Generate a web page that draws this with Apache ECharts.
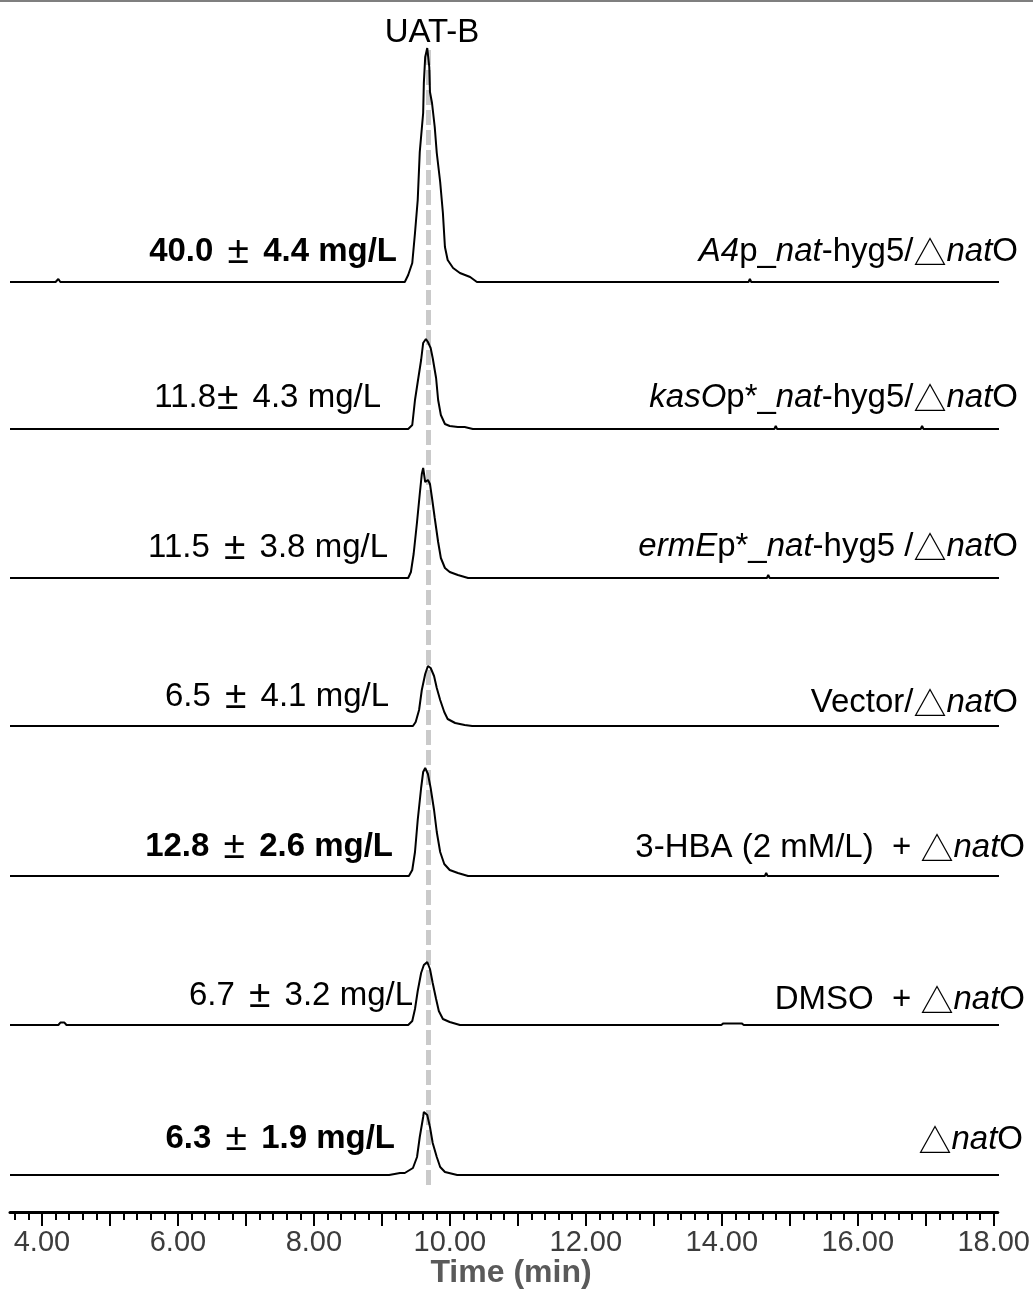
<!DOCTYPE html>
<html>
<head>
<meta charset="utf-8">
<script src="https://cdn.jsdelivr.net/npm/echarts@6/dist/echarts.min.js"></script>
<style>
  html, body { margin: 0; padding: 0; background: #fff; }
  #chart { width: 1033px; height: 1299px; }
</style>
</head>
<body>
<div id="chart"></div>
<script>
// retention time axis (min)
const timeMin = 3.53;
const timeMax = 18.06;
const timeLabels = [4, 6, 8, 10, 12, 14, 16, 18];
const majorTicks = [4, 5, 6, 7, 8, 9, 10, 11, 12, 13, 14, 15, 16, 17, 18];
const peakTime = 9.67;
const peakName = 'UAT-B';

// chromatograms, [time, intensity]
const traceA4 = [[3.53,0],[4.20,0],[4.24,1.5],[4.27,0],[9.33,0],[9.38,3.5],[9.44,9.5],[9.48,24.5],[9.52,41],[9.55,65],[9.60,84.5],[9.61,99.5],[9.63,112.5],[9.66,117],[9.69,107.5],[9.70,95],[9.73,89.5],[9.77,77.5],[9.80,64.5],[9.85,50],[9.89,34.5],[9.92,17.5],[9.96,11],[10.04,7],[10.14,4.5],[10.29,2.5],[10.39,0],[14.16,0],[14.18,1],[14.20,0],[14.38,0],[14.40,1.5],[14.42,0],[18.06,0]];
const traceKas = [[3.53,0],[9.38,0],[9.44,2],[9.48,14.5],[9.52,23.5],[9.57,34.5],[9.60,43],[9.64,45],[9.67,43.5],[9.71,40.5],[9.74,35.5],[9.79,25.5],[9.82,14.5],[9.86,7],[9.92,2.5],[9.99,1.5],[10.11,1],[10.21,1],[10.33,0],[14.76,0],[14.78,1.5],[14.80,0],[16.08,0],[16.10,1],[16.12,0],[16.91,0],[16.93,1.5],[16.95,0],[18.06,0]];
const traceErm = [[3.53,0],[4.24,0],[4.26,1],[4.28,0],[9.38,0],[9.42,3],[9.46,12],[9.51,28],[9.55,42],[9.58,52],[9.60,55],[9.63,48],[9.67,49],[9.70,47],[9.73,40],[9.77,30],[9.82,18],[9.86,10],[9.92,5],[9.99,3],[10.11,1.5],[10.26,0],[14.65,0],[14.67,1.5],[14.69,0],[14.97,0],[14.99,1],[15.01,0],[18.06,0]];
const traceVector = [[3.53,0],[9.45,0],[9.49,2],[9.54,8],[9.58,18],[9.63,26],[9.67,30],[9.71,29],[9.76,25],[9.80,19],[9.85,13],[9.91,7],[9.96,3.5],[10.07,1.5],[10.21,0.5],[10.32,0],[13.68,0],[13.70,1],[13.72,0],[14.26,0],[14.28,1],[14.30,0],[18.06,0]];
const traceHBA = [[3.53,0],[9.39,0],[9.44,3],[9.48,12],[9.52,28],[9.57,44],[9.60,52],[9.63,54],[9.67,51],[9.71,44],[9.76,33],[9.80,22],[9.85,12],[9.91,6],[9.99,3],[10.11,1.5],[10.26,0],[14.62,0],[14.64,1.5],[14.66,0],[15.34,0],[15.36,0.8],[15.38,0],[18.06,0]];
const traceDMSO = [[3.53,0],[4.24,0],[4.27,1.2],[4.33,1.2],[4.36,0],[9.38,0],[9.44,2],[9.48,8],[9.52,17],[9.57,26],[9.61,30],[9.66,31.5],[9.70,28],[9.74,21],[9.79,13],[9.83,7],[9.89,3],[9.99,1.5],[10.14,0],[13.98,0],[14.01,0.8],[14.28,0.8],[14.31,0],[15.16,0],[15.18,0.8],[15.20,0],[18.06,0]];
const traceNatO = [[3.53,0],[9.10,0],[9.26,1],[9.33,1],[9.45,3.5],[9.51,9],[9.55,19],[9.60,29],[9.61,31.5],[9.66,30],[9.70,24],[9.74,16],[9.80,9],[9.85,4],[9.92,1.5],[10.10,0],[14.41,0],[14.43,1],[14.45,0],[18.06,0]];

const traces = [traceA4, traceKas, traceErm, traceVector, traceHBA, traceDMSO, traceNatO];

// yields (left) and strain names (right)
const yieldLabels = ['40.0 {p|±} 4.4 mg/L', '11.8{q|±} 4.3 mg/L', '11.5 {p|±} 3.8 mg/L', '6.5 {p|±} 4.1 mg/L', '12.8 {p|±} 2.6 mg/L', '6.7 {p|±} 3.2 mg/L', '6.3 {p|±} 1.9 mg/L'];
const yieldBold = [true, false, false, false, true, false, true];
const strainLabels = [
  '{i|A4}p_{i|nat}-hyg5/{t|△}{i|nat}O',
  '{i|kasO}p*_{i|nat}-hyg5/{t|△}{i|nat}O',
  '{i|ermE}p*_{i|nat}-hyg5 /{t|△}{i|nat}O',
  'Vector/{t|△}{i|nat}O',
  '3-HBA (2 mM/L)  + {t|△}{i|nat}O',
  'DMSO  + {t|△}{i|nat}O',
  '{t|△}{i|nat}O'
];

// layout
const W = 1033, H = 1299;
const baselines = [282, 429, 578, 726, 876, 1025, 1175];
const slotHeight = 240;
const yMax = 120;
const gridLeft = 10, gridRight = 34;
const yieldPos = [[397, 252], [381, 398], [388, 548], [389, 697], [393, 847], [413, 996], [395, 1139]];
const strainPos = [[1018, 252], [1018, 398], [1018, 547], [1018, 703], [1025, 848], [1025, 1000], [1023, 1140]];

const FONT = '"Liberation Sans", Arial, "Noto Sans CJK SC", sans-serif';

const minorTicks = [];
for (let k = 18; k <= 90; k++) {
  if (k % 5 !== 0) minorTicks.push(+(k * 0.2).toFixed(1));
}

const grids = [], xAxes = [], yAxes = [], series = [];

traces.forEach((data, i) => {
  grids.push({ left: gridLeft, right: gridRight, top: baselines[i] - slotHeight, height: slotHeight });
  xAxes.push({ type: 'value', gridIndex: i, min: timeMin, max: timeMax, show: false });
  yAxes.push({ type: 'value', gridIndex: i, min: 0, max: yMax, show: false });
  series.push({
    type: 'line',
    xAxisIndex: i,
    yAxisIndex: i,
    data: data,
    showSymbol: false,
    clip: false,
    z: 5,
    lineStyle: { color: '#000', width: 2 },
    silent: true
  });
});

// dashed retention-time marker
const markIdx = traces.length;
grids.push({ left: gridLeft, right: gridRight, top: 48, bottom: H - 1185 });
xAxes.push({ type: 'value', gridIndex: markIdx, min: timeMin, max: timeMax, show: false });
yAxes.push({ type: 'value', gridIndex: markIdx, min: 0, max: 1, show: false });
series.push({
  type: 'line',
  xAxisIndex: markIdx,
  yAxisIndex: markIdx,
  data: [],
  z: 1,
  markLine: {
    silent: true,
    symbol: 'none',
    label: { show: false },
    lineStyle: { color: '#cacaca', width: 5, type: [15, 5] },
    data: [{ xAxis: peakTime }]
  }
});

// visible time axis
const axisIdx = traces.length + 1;
grids.push({ left: gridLeft, right: gridRight, bottom: H - 1212, height: 1 });
xAxes.push({
  type: 'value',
  gridIndex: axisIdx,
  min: timeMin,
  max: timeMax,
  position: 'bottom',
  splitLine: { show: false },
  axisLine: { show: true, lineStyle: { color: '#000', width: 3 } },
  axisTick: { show: true, customValues: majorTicks, length: 14, lineStyle: { color: '#000', width: 2 } },
  axisLabel: {
    show: true,
    customValues: timeLabels,
    formatter: v => v.toFixed(2),
    fontSize: 29,
    fontFamily: FONT,
    color: '#3c3c3c',
    margin: 16
  }
});
xAxes.push({
  type: 'value',
  gridIndex: axisIdx,
  min: timeMin,
  max: timeMax,
  position: 'bottom',
  splitLine: { show: false },
  axisLine: { show: false },
  axisTick: { show: true, customValues: minorTicks, length: 8, lineStyle: { color: '#000', width: 2 } },
  axisLabel: { show: false }
});
yAxes.push({ type: 'value', gridIndex: axisIdx, show: false });

const graphics = [
  { type: 'rect', left: 0, top: 0, shape: { width: W, height: 2 }, style: { fill: '#7f7f7f' } },
  {
    type: 'text', x: 432, y: 33,
    style: { text: peakName, fontSize: 33, fontFamily: FONT, fill: '#000', align: 'center', verticalAlign: 'middle' }
  },
  {
    type: 'text', x: 511, y: 1273,
    style: { text: 'Time (min)', fontSize: 32, fontWeight: 'bold', fontFamily: FONT, fill: '#5a5a5a', align: 'center', verticalAlign: 'middle' }
  }
];

yieldLabels.forEach((txt, i) => {
  const weight = yieldBold[i] ? 'bold' : 'normal';
  graphics.push({
    type: 'text', x: yieldPos[i][0], y: yieldPos[i][1],
    style: {
      text: txt, fontSize: 33, fontFamily: FONT, fontWeight: weight,
      fill: '#000', align: 'right', verticalAlign: 'middle',
      rich: {
        p: { fontSize: 39, fontFamily: FONT, fontWeight: 'normal', fill: '#000', padding: [0, 5, 0, 5] },
        q: { fontSize: 39, fontFamily: FONT, fontWeight: 'normal', fill: '#000', padding: [0, 5, 0, 1] }
      }
    }
  });
});

const richStyles = {
  i: { fontStyle: 'italic', fontSize: 33, fontFamily: FONT, fill: '#000' },
  t: { fontSize: 33, fontFamily: '"Noto Sans CJK SC", sans-serif', fill: '#000' }
};
strainLabels.forEach((txt, i) => {
  graphics.push({
    type: 'text', x: strainPos[i][0], y: strainPos[i][1],
    style: {
      text: txt, fontSize: 33, fontFamily: FONT, fill: '#000',
      align: 'right', verticalAlign: 'middle', rich: richStyles
    }
  });
});

const chart = echarts.init(document.getElementById('chart'));
chart.setOption({
  animation: false,
  backgroundColor: '#fff',
  grid: grids,
  xAxis: xAxes,
  yAxis: yAxes,
  series: series,
  graphic: graphics
});
</script>
</body>
</html>
